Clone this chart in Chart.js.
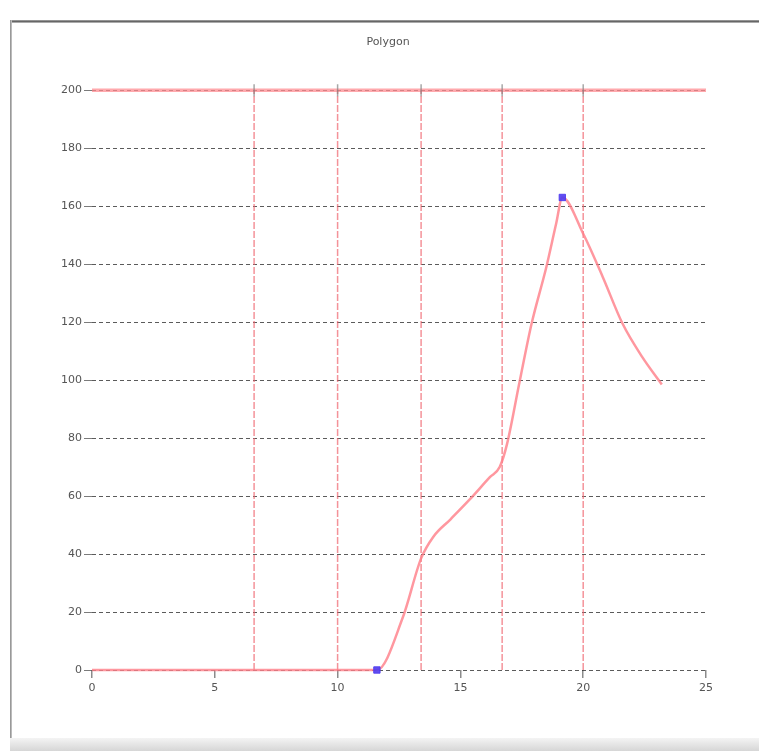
<!DOCTYPE html>
<html>
<head>
<meta charset="utf-8">
<script src="https://cdn.jsdelivr.net/npm/chart.js@4.4.1/dist/chart.umd.min.js"></script>
<style>
  html, body { margin: 0; padding: 0; background: #fff; }
  body { width: 759px; height: 751px; position: relative; overflow: hidden; font-family: "DejaVu Sans", sans-serif; }
  #wrap { position: absolute; left: 0; top: 0; width: 759px; height: 751px; }
  .frame-top { position: absolute; left: 10px; top: 20px; width: 749px; height: 3px; background: linear-gradient(#aaa, #666, #ccc); }
  .frame-left { position: absolute; left: 10px; top: 20px; width: 2px; height: 722px; background: linear-gradient(90deg, #888, #ccc); }
  .frame-bottom { position: absolute; left: 10px; top: 738px; width: 749px; height: 13px; background: linear-gradient(#f4f4f4, #d6d6d6); }
</style>
</head>
<body>
<div class="frame-top"></div>
<div class="frame-left"></div>
<div class="frame-bottom"></div>
<div id="wrap"><canvas id="c" width="759" height="751"></canvas></div>
<script>
// ---- data ----
const titleText = "Polygon";
const xValues = [0, 11.6, 12.65, 13.4, 13.9, 14.6, 15.4, 16.2, 16.6, 16.9, 17.4, 17.9, 18.5, 18.9, 19.15, 20.0, 20.8, 21.6, 22.4, 23.2];
const yValues = [0, 0, 18, 38.5, 46, 52, 59, 66.5, 70, 78, 99, 119.5, 139, 154, 163, 150.5, 135.5, 119.5, 108, 98.5];
const markerX = [11.6, 19.15];
const markerY = [0, 163];
const verticalLines = [6.6, 10, 13.4, 16.7, 20];
const topLineY = 200;
const xTicks = [0, 5, 10, 15, 20, 25];
const yTicks = [0, 20, 40, 60, 80, 100, 120, 140, 160, 180, 200];

const datasets = [];
// main line
datasets.push({
  label: "series",
  data: xValues.map((x, i) => ({ x: x, y: yValues[i] })),
  borderColor: "rgba(255,125,135,0.8)",
  borderWidth: 2.5,
  pointRadius: 0,
  cubicInterpolationMode: "monotone",
  clip: 8,
  order: 1
});
// markers
datasets.push({
  label: "markers",
  data: markerX.map((x, i) => ({ x: x, y: markerY[i] })),
  showLine: false,
  pointStyle: "rect",
  pointRadius: 4.5,
  backgroundColor: "rgba(80,60,240,0.9)",
  borderColor: "rgba(80,60,240,0.9)",
  clip: 8,
  order: 0
});
// vertical red lines
verticalLines.forEach(v => {
  datasets.push({
    label: "v" + v,
    data: [{ x: v, y: 0 }, { x: v, y: topLineY }],
    borderColor: "rgba(240,100,110,0.7)",
    borderWidth: 1.5,
    borderDash: [7, 2],
    pointStyle: "line",
    rotation: 90,
    pointRadius: [0, 6],
    pointBorderColor: "rgba(130,130,130,0.7)",
    pointBorderWidth: 1.5,
    clip: 10,
    order: 2
  });
});
// top horizontal red line
datasets.push({
  label: "top",
  data: [{ x: xTicks[0], y: topLineY }, { x: xTicks[xTicks.length - 1], y: topLineY }],
  borderColor: "rgba(255,140,145,0.75)",
  borderWidth: 3.5,
  pointRadius: 0,
  clip: 8,
  order: 3
});

new Chart(document.getElementById("c"), {
  type: "line",
  data: { datasets: datasets },
  options: {
    responsive: false,
    animation: false,
    layout: { padding: { left: 17, right: 0, top: 0, bottom: 41 } },
    plugins: {
      legend: { display: false },
      tooltip: { enabled: false },
      title: {
        display: true,
        text: titleText,
        color: "#555",
        font: { family: "DejaVu Sans", size: 11, weight: "normal" },
        padding: { top: 36, bottom: 41 }
      }
    },
    scales: {
      x: {
        type: "linear",
        min: xTicks[0],
        max: xTicks[xTicks.length - 1],
        afterBuildTicks: s => { s.ticks = xTicks.map(v => ({ value: v })); },
        afterFit: s => { s.height = 40; },
        border: { display: false },
        grid: { drawOnChartArea: false, drawTicks: true, tickLength: 8, color: "rgba(110,110,110,0.8)", lineWidth: 1.5 },
        ticks: { color: "#555", font: { family: "DejaVu Sans", size: 11 }, padding: 4 }
      },
      y: {
        type: "linear",
        position: "left",
        min: yTicks[0],
        max: yTicks[yTicks.length - 1],
        afterBuildTicks: s => { s.ticks = yTicks.map(v => ({ value: v })); },
        afterFit: s => { s.width = 75; },
        border: { display: false, dash: [4, 3] },
        grid: {
          color: "rgba(50,50,50,0.8)",
          lineWidth: 1,
          drawTicks: true,
          tickLength: 8,
          tickColor: "rgba(90,90,90,0.8)",
          tickBorderDash: []
        },
        ticks: { color: "#555", font: { family: "DejaVu Sans", size: 11 }, padding: 2 }
      },
      yRight: {
        type: "linear",
        position: "right",
        min: yTicks[0],
        max: yTicks[yTicks.length - 1],
        afterFit: s => { s.width = 53; },
        border: { display: false },
        grid: { display: false },
        ticks: { display: false }
      }
    }
  }
});
</script>
</body>
</html>
